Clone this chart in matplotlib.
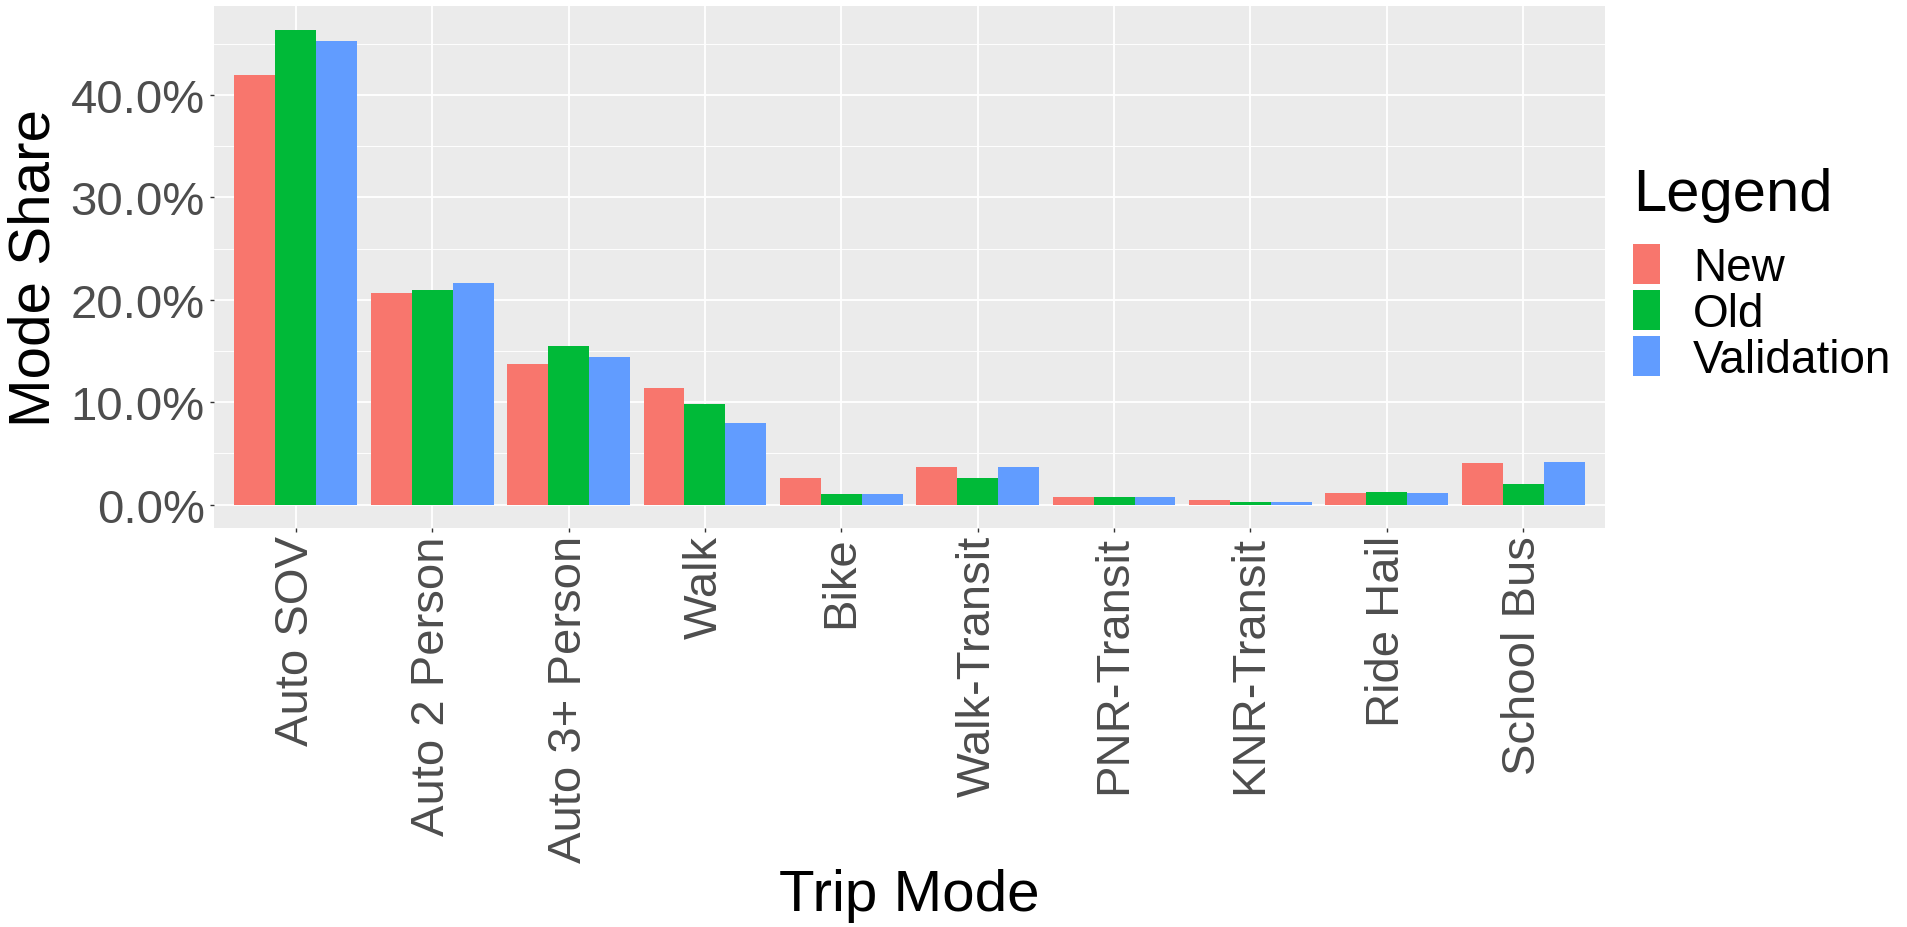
import numpy as np
import matplotlib
matplotlib.use("Agg")
from matplotlib import pyplot as plt

# mode share (%)
modes = ["Auto SOV", "Auto 2 Person", "Auto 3+ Person", "Walk", "Bike",
         "Walk-Transit", "PNR-Transit", "KNR-Transit", "Ride Hail", "School Bus"]
new_share = [41.98, 20.65, 13.74, 11.42, 2.60, 3.71, 0.78, 0.42, 1.14, 4.07]
old_share = [46.38, 20.92, 15.45, 9.84, 1.01, 2.61, 0.78, 0.26, 1.27, 1.99]
val_share = [45.27, 21.63, 14.44, 7.99, 1.01, 3.71, 0.78, 0.26, 1.14, 4.20]
series_names = ["New", "Old", "Validation"]
series_colors = ["#F8766D", "#00BA38", "#619CFF"]
y_ticks = [0, 10, 20, 30, 40]
y_ticklabels = ["0.0%", "10.0%", "20.0%", "30.0%", "40.0%"]

plt.rcParams['font.family'] = ['Liberation Sans', 'DejaVu Sans']

W, H = 1907, 928
fig = plt.figure(figsize=(W / 100, H / 100), dpi=100)
left, right, top, bottom = 214, 1605, 7, 529.3
ax = fig.add_axes([left / W, 1 - bottom / H, (right - left) / W, (bottom - top) / H])
ax.set_facecolor("#EBEBEB")

x = np.arange(1, len(modes) + 1)
bw = 0.3
all_series = [new_share, old_share, val_share]
for i, (vals, name, col) in enumerate(zip(all_series, series_names, series_colors)):
    ax.bar(x + (i - 1) * bw, vals, width=bw, color=col, label=name, zorder=3)

ymax = max(max(s) for s in all_series)
ax.set_ylim(-0.05 * ymax, 1.05 * ymax)
ax.set_xlim(0.4, len(modes) + 0.6)

# grid like ggplot
ax.set_yticks(y_ticks)
ax.set_yticklabels(y_ticklabels)
ax.set_yticks([5, 15, 25, 35, 45], minor=True)
ax.set_xticks(x)
ax.set_xticklabels(modes, rotation=90, ha="center", va="top")
ax.grid(which="major", color="white", linewidth=1.3, zorder=0)
ax.grid(which="minor", axis="y", color="white", linewidth=0.65, zorder=0)
ax.set_axisbelow(True)
for s in ax.spines.values():
    s.set_visible(False)

ax.tick_params(axis="both", which="major", length=3, width=1, color="#333333",
               labelcolor="#4D4D4D")
ax.tick_params(axis="y", labelsize=34, pad=3.5)
ax.tick_params(axis="x", labelsize=34, pad=2)
ax.tick_params(which="minor", length=0)

ax.set_xlabel("Trip Mode", fontsize=42, color="black", labelpad=4)
ax.set_ylabel("Mode Share", fontsize=42, color="black", labelpad=7)

# legend: title placed by hand, keys below it
fig.text(1633 / W, 1 - 211 / H, "Legend", fontsize=43, color="black",
         ha="left", va="baseline")
leg = fig.legend(loc="upper left", bbox_to_anchor=(1633 / W, 1 - 245 / H),
                 frameon=False, fontsize=33, handlelength=0.59, handleheight=0.975,
                 handletextpad=0.72, labelspacing=0.0, borderpad=0,
                 borderaxespad=0)

fig.savefig("out.png", dpi=100)
